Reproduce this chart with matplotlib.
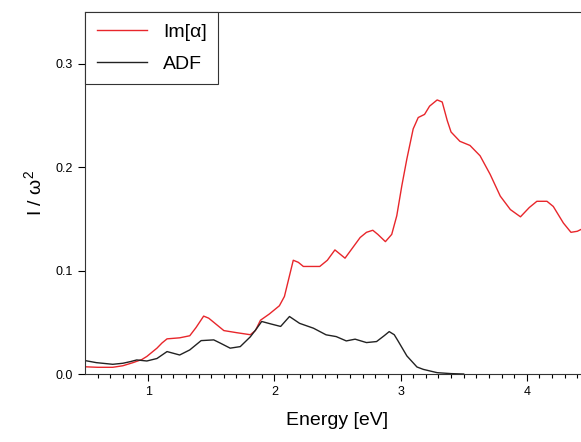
import matplotlib.pyplot as plt
import numpy as np

plt.rcParams['font.family'] = ['Liberation Sans', 'DejaVu Sans']

# Im[alpha] curve (energy in eV, intensity)
im_x = [0.50, 0.60, 0.72, 0.80, 0.88, 0.95, 0.99, 1.04, 1.07, 1.11, 1.15, 1.20, 1.25,
        1.33, 1.38, 1.44, 1.48, 1.52, 1.60, 1.70, 1.81, 1.85, 1.89, 1.96, 2.04, 2.08,
        2.12, 2.15, 2.19, 2.23, 2.30, 2.36, 2.42, 2.48, 2.52, 2.56, 2.62, 2.68, 2.73,
        2.78, 2.82, 2.88, 2.93, 2.97, 3.01, 3.05, 3.10, 3.14, 3.19, 3.23, 3.29, 3.33,
        3.37, 3.40, 3.47, 3.55, 3.63, 3.71, 3.79, 3.87, 3.95, 4.02, 4.08, 4.16, 4.21,
        4.29, 4.35, 4.40, 4.45]
im_y = [0.007, 0.0065, 0.0065, 0.008, 0.011, 0.014, 0.017, 0.022, 0.025, 0.030, 0.034, 0.0345,
        0.035, 0.037, 0.045, 0.056, 0.054, 0.050, 0.042, 0.040, 0.038, 0.042, 0.052, 0.058,
        0.066, 0.075, 0.095, 0.110, 0.108, 0.104, 0.104, 0.104, 0.110, 0.120, 0.116, 0.112,
        0.122, 0.132, 0.137, 0.139, 0.135, 0.128, 0.135, 0.153, 0.182, 0.208, 0.237, 0.248,
        0.251, 0.259, 0.265, 0.263, 0.245, 0.234, 0.225, 0.221, 0.211, 0.193, 0.172, 0.159,
        0.152, 0.161, 0.167, 0.167, 0.162, 0.146, 0.137, 0.138, 0.141]

# ADF curve
adf_x = [0.50, 0.59, 0.72, 0.80, 0.86, 0.91, 0.99, 1.07, 1.15, 1.25, 1.33, 1.42, 1.52,
         1.57, 1.65, 1.73, 1.81, 1.86, 1.90, 1.97, 2.05, 2.12, 2.20, 2.31, 2.41, 2.49,
         2.57, 2.64, 2.73, 2.81, 2.87, 2.91, 2.95, 2.98, 3.05, 3.13, 3.18, 3.29, 3.40,
         3.50]
adf_y = [0.013, 0.011, 0.0094, 0.0104, 0.012, 0.0136, 0.0126, 0.015, 0.0217, 0.0184, 0.0233,
         0.0323, 0.033, 0.030, 0.025, 0.0265, 0.036, 0.044, 0.0508, 0.0485, 0.046, 0.0556,
         0.049, 0.0443, 0.0379, 0.0362, 0.032, 0.0337, 0.0304, 0.0314, 0.037, 0.041, 0.038,
         0.032, 0.0175, 0.0068, 0.0045, 0.0013, 0.0004, 0.0]

fig = plt.figure(figsize=(5.81, 4.42), dpi=100)
ax = fig.add_axes([0.1463, 0.1538, 0.869, 0.819])

ax.plot(im_x, im_y, color='#e8262b', lw=1.0, label='Im[α]')
ax.plot(adf_x, adf_y, color='#222222', lw=1.0, label='ADF')

ax.set_xlim(0.5, 4.5)
ax.set_ylim(0, 0.35)
ax.set_xticks([1, 2, 3, 4])
ax.set_xticks(np.arange(0.6, 4.5, 0.1), minor=True)
ax.set_yticks([0.0, 0.1, 0.2, 0.3])
ax.set_yticklabels(['0.0', '0.1', '0.2', '0.3'])
ax.tick_params(which='major', direction='out', length=5, width=0.8, labelsize=9)
ax.tick_params(which='minor', direction='out', length=3, width=0.8)
ax.spines['right'].set_visible(False)
for s in ['left', 'bottom', 'top']:
    ax.spines[s].set_color('#333333')

ax.set_xlabel('Energy [eV]', fontsize=14, labelpad=10)
ax.set_ylabel(r'I / $\mathregular{\omega^2}$', fontsize=14, labelpad=8)

leg = ax.legend(loc='upper left', bbox_to_anchor=(0, 1), borderaxespad=0,
                fancybox=False, edgecolor='#333333', framealpha=1, fontsize=14,
                handlelength=2.6, handletextpad=0.8, borderpad=0.6, labelspacing=0.7)
leg.get_frame().set_linewidth(0.8)

plt.savefig('out.png', dpi=100)
